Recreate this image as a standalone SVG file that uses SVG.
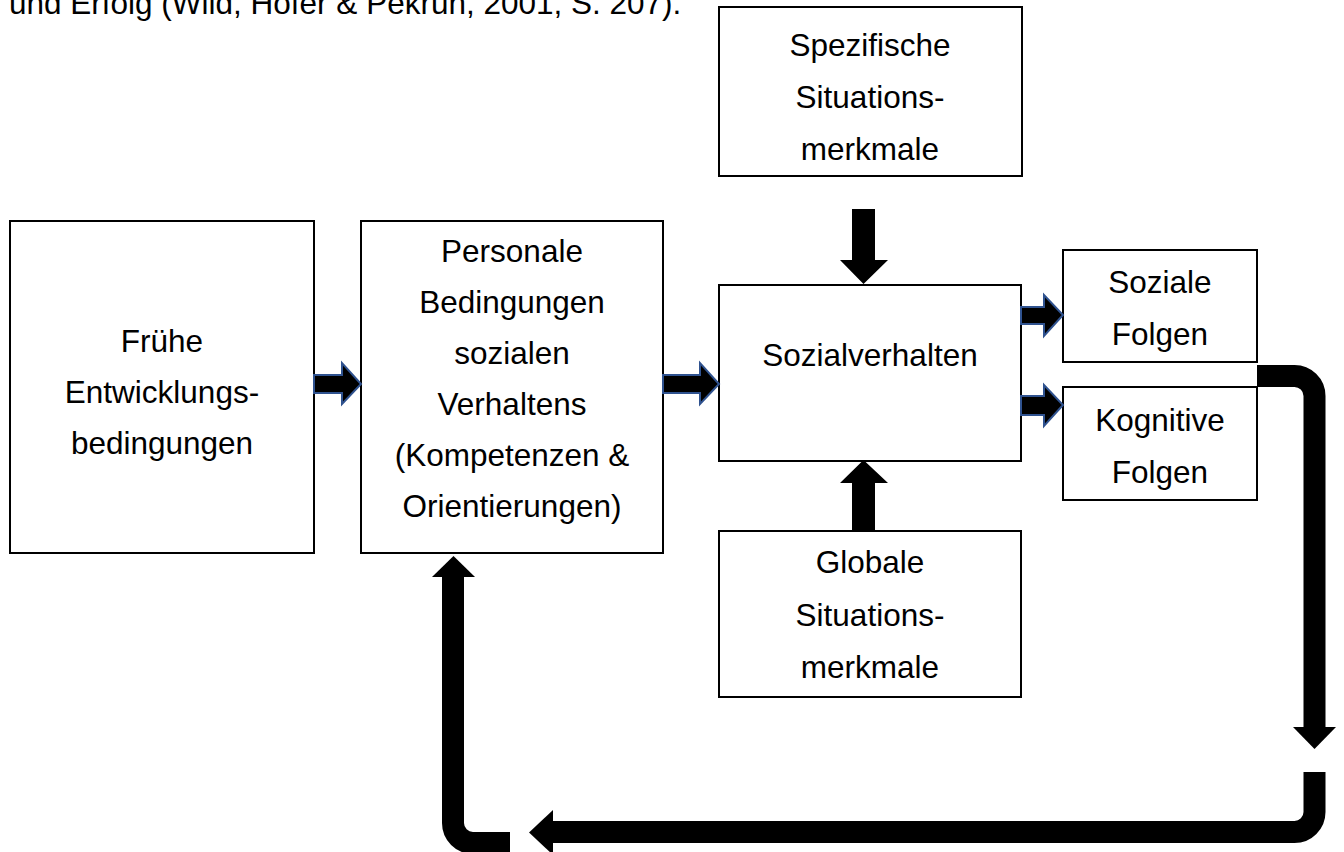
<svg xmlns="http://www.w3.org/2000/svg" width="1344" height="852" viewBox="0 0 1344 852">
<style>
.box{fill:#fff;stroke:#000;stroke-width:2}
.t{font-family:"Liberation Sans",Arial,sans-serif;font-size:31.5px;fill:#000;text-anchor:middle}
.ba{fill:#000;stroke:#2F528F;stroke-width:2;stroke-linejoin:miter}
.va{fill:#000;stroke:none}
.pipe{fill:none;stroke:#000;stroke-width:22}
</style>
<rect width="1344" height="852" fill="#fff"/>
<text class="t" x="9" y="14" style="text-anchor:start">und Erfolg (Wild, Hofer &amp; Pekrun, 2001, S. 207).</text>
<g id="n-fruehe">
<rect class="box" x="10" y="221" width="304" height="332"/>
<text class="t" x="162" y="352">Frühe</text>
<text class="t" x="162" y="403">Entwicklungs-</text>
<text class="t" x="162" y="454">bedingungen</text>
</g>
<g id="n-personale">
<rect class="box" x="361" y="221" width="302" height="332"/>
<text class="t" x="512" y="262">Personale</text>
<text class="t" x="512" y="313">Bedingungen</text>
<text class="t" x="512" y="364">sozialen</text>
<text class="t" x="512" y="415">Verhaltens</text>
<text class="t" x="512" y="466">(Kompetenzen &amp;</text>
<text class="t" x="512" y="517">Orientierungen)</text>
</g>
<g id="n-spezifische">
<rect class="box" x="719" y="7" width="303" height="169"/>
<text class="t" x="870" y="56">Spezifische</text>
<text class="t" x="870" y="108">Situations-</text>
<text class="t" x="870" y="160">merkmale</text>
</g>
<g id="n-sozialverhalten">
<rect class="box" x="719" y="285" width="302" height="176"/>
<text class="t" x="870" y="366">Sozialverhalten</text>
</g>
<g id="n-soziale">
<rect class="box" x="1063" y="250" width="194" height="112"/>
<text class="t" x="1160" y="293">Soziale</text>
<text class="t" x="1160" y="345">Folgen</text>
</g>
<g id="n-kognitive">
<rect class="box" x="1063" y="387" width="194" height="113"/>
<text class="t" x="1160" y="431">Kognitive</text>
<text class="t" x="1160" y="483">Folgen</text>
</g>
<g id="n-globale">
<rect class="box" x="719" y="531" width="302" height="166"/>
<text class="t" x="870" y="573">Globale</text>
<text class="t" x="870" y="626">Situations-</text>
<text class="t" x="870" y="678">merkmale</text>
</g>
<g id="connectors">
<polygon class="ba" points="314,375 342,375 342,363 361,384 342,404 342,393 314,393"/>
<polygon class="ba" points="663,375 700,375 700,363 719,384 700,404 700,393 663,393"/>
<polygon class="ba" points="1021,307 1044,307 1044,295 1063,315 1044,336 1044,324 1021,324"/>
<polygon class="ba" points="1021,396 1044,396 1044,385 1063,405 1044,426 1044,415 1021,415"/>
<polygon class="va" points="852,209 875,209 875,260 888,260 863.5,284 840,260 852,260"/>
<polygon class="va" points="852,531 875,531 875,483 888,483 863.5,460 840,483 852,483"/>
<path class="pipe" d="M1257,376 H1294 A20,20 0 0 1 1314.5,396 V728"/>
<polygon class="va" points="1293,727 1336,727 1314.5,749"/>
<path class="pipe" d="M1314.5,772 V812 A20,20 0 0 1 1294.5,832 H551"/>
<polygon class="va" points="553,810 553,855 529,832.5"/>
<path class="pipe" d="M510,843 H473 A20,20 0 0 1 453,823 V576"/>
<polygon class="va" points="432,577 475,577 453.5,556"/>
</g>
</svg>
